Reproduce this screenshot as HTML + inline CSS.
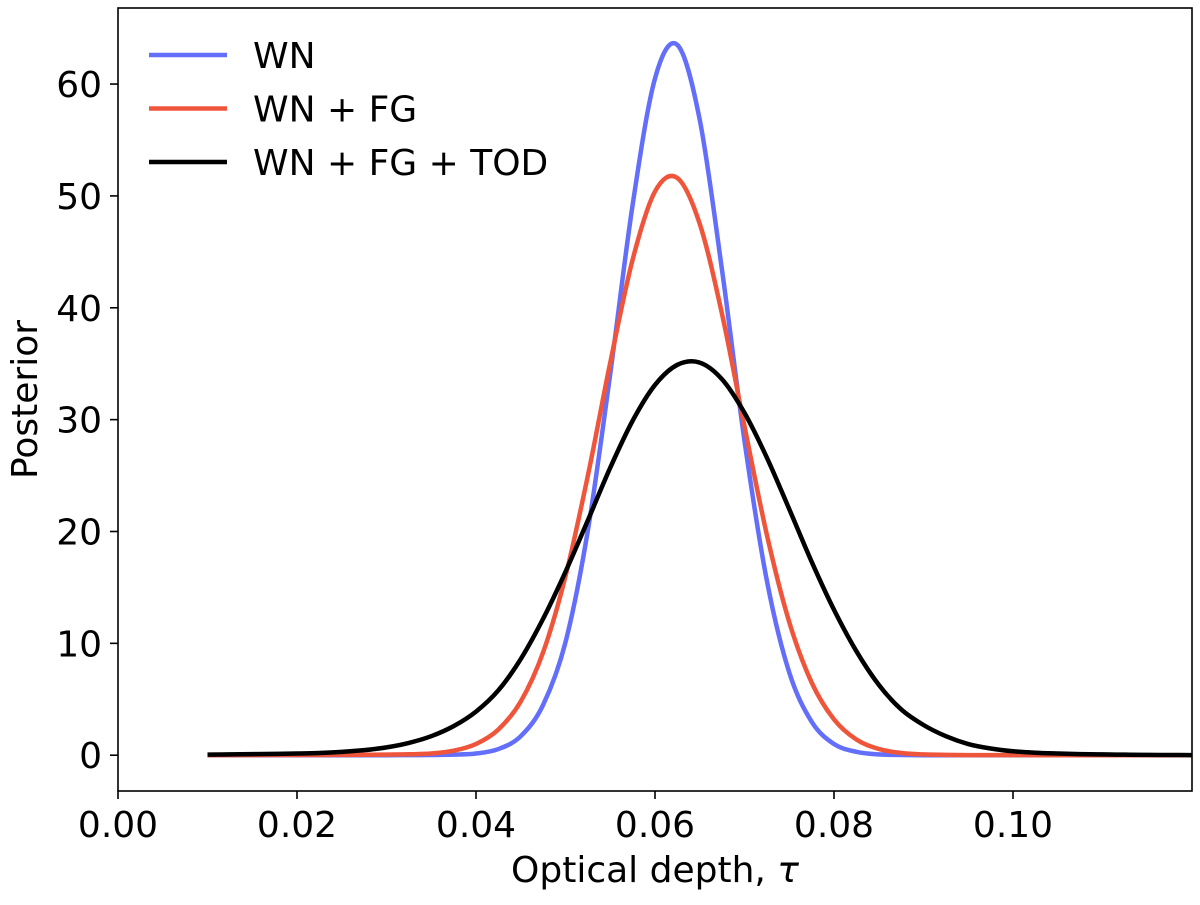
<!DOCTYPE html>
<html><head><meta charset="utf-8"><style>
body{margin:0;background:#fff}
svg text{font-family:"DejaVu Sans","Liberation Sans",sans-serif;fill:#000}
</style></head><body>
<svg id="chart" width="1200" height="900" xmlns="http://www.w3.org/2000/svg">
<g id="plot"></g>
<g id="axes"></g>
<g id="legend"></g>
</svg>
<script>
const xs=[0.0100,0.0125,0.0150,0.0175,0.0200,0.0225,0.0250,0.0275,0.0300,0.0325,0.0350,0.0375,0.0400,0.0425,0.0450,0.0475,0.0500,0.0525,0.0550,0.0575,0.0600,0.0625,0.0650,0.0675,0.0700,0.0725,0.0750,0.0775,0.0800,0.0825,0.0850,0.0875,0.0900,0.0925,0.0950,0.0975,0.1000,0.1025,0.1050,0.1075,0.1100,0.1125,0.1150,0.1175,0.1200];
const wnVals=[0,0,0,0,0,0,0,0,0,0.01,0.02,0.05,0.15,0.55,1.7,4.5,10.1,20.1,34.1,49.2,60.5,63.5,56.8,43.3,28.1,15.6,7.4,3.0,1.0,0.3,0.07,0.02,0,0,0,0,0,0,0,0,0,0,0,0,0];
const fgVals=[0.01,0.01,0.01,0.02,0.02,0.02,0.03,0.04,0.05,0.08,0.15,0.4,1.0,2.3,4.8,9.2,16.0,25.0,35.1,44.3,50.4,51.6,47.5,39.4,29.4,19.7,11.9,6.5,3.2,1.4,0.56,0.2,0.07,0.03,0.01,0.01,0.01,0,0,0,0,0,0,0,0];
const todVals=[0.05,0.07,0.1,0.12,0.15,0.2,0.3,0.45,0.7,1.1,1.7,2.6,3.9,5.8,8.6,12.2,16.4,21.0,25.7,29.9,33.1,34.9,35.1,33.6,30.6,26.6,22.0,17.3,13.0,9.3,6.3,4.1,2.7,1.7,1.0,0.6,0.35,0.22,0.15,0.1,0.07,0.05,0.03,0.02,0.01];
const xTicks=[0.00,0.02,0.04,0.06,0.08,0.10];
const xTickLabels=["0.00","0.02","0.04","0.06","0.08","0.10"];
const yTicks=[0,10,20,30,40,50,60];
const seriesNames=["WN","WN + FG","WN + FG + TOD"];

const L=118,R=1192,T=8,B=791;
const xMin=0,xMax=0.12,yMin=-3.2,yMax=66.8;
const X=v=>L+(v-xMin)/(xMax-xMin)*(R-L);
const Y=v=>B-(v-yMin)/(yMax-yMin)*(B-T);
const NS="http://www.w3.org/2000/svg";
function mk(tag,attrs,parent){const e=document.createElementNS(NS,tag);for(const k in attrs)e.setAttribute(k,attrs[k]);parent.appendChild(e);return e;}
function pathFor(vals){
  const p=xs.map((x,i)=>[X(x),Y(vals[i])]);
  let d="M"+p[0][0]+","+p[0][1];
  for(let i=0;i<p.length-1;i++){
    const p0=p[Math.max(0,i-1)],p1=p[i],p2=p[i+1],p3=p[Math.min(p.length-1,i+2)];
    const c1y=p1[1]+(p2[1]-p0[1])/6,c2y=p2[1]-(p3[1]-p1[1])/6;
    d+=" C"+(p1[0]+(p2[0]-p0[0])/6)+","+c1y+" "+(p2[0]-(p3[0]-p1[0])/6)+","+c2y+" "+p2[0]+","+p2[1];
  }
  return d;
}
const plot=document.getElementById('plot'),axes=document.getElementById('axes'),leg=document.getElementById('legend');
mk('clipPath',{id:'clip'},plot);
mk('rect',{x:L,y:T,width:R-L,height:B-T},plot.firstChild);
const colors=["#636efa","#ef553b","#000000"];
const names=["wn-line","wn-fg-line","wn-fg-tod-line"];
[wnVals,fgVals,todVals].forEach((v,i)=>{
  const e=mk('path',{d:pathFor(v),fill:'none',stroke:colors[i],'stroke-width':4.5,'stroke-linejoin':'round','clip-path':'url(#clip)'},plot);
  
  
});
const frame=mk('rect',{x:L,y:T,width:R-L,height:B-T,fill:'none',stroke:'#000','stroke-width':1.6},axes);


xTicks.forEach((t,i)=>{
  mk('line',{x1:X(t),x2:X(t),y1:B,y2:B+8,stroke:'#000','stroke-width':1.6},axes);
  const e=mk('text',{x:X(t),y:B+46,'text-anchor':'middle','font-size':36},axes);
  e.textContent=xTickLabels[i];
  
  
});
yTicks.forEach(t=>{
  mk('line',{x1:L-8,x2:L,y1:Y(t),y2:Y(t),stroke:'#000','stroke-width':1.6},axes);
  const e=mk('text',{x:L-16,y:Y(t)+13,'text-anchor':'end','font-size':36},axes);
  e.textContent=String(t);
  
  
});
const xt=mk('text',{x:(L+R)/2,y:882,'text-anchor':'middle','font-size':36},axes);
xt.textContent="Optical depth, ";
const tau=mk('tspan',{'font-style':'italic'},xt);
tau.textContent="τ";


const yt=mk('text',{x:0,y:0,transform:'translate(37,'+((T+B)/2)+') rotate(-90)','text-anchor':'middle','font-size':36},axes);
yt.textContent="Posterior";


const legY=[55,108.5,162];
seriesNames.forEach((n,i)=>{
  const y=legY[i];
  const g=mk('g',{},leg);
  
  
  mk('line',{x1:149,x2:227,y1:y,y2:y,stroke:colors[i],'stroke-width':4.5},g);
  const e=mk('text',{x:253,y:y+13,'font-size':36},g);
  e.textContent=n;
});
</script>
</body></html>
